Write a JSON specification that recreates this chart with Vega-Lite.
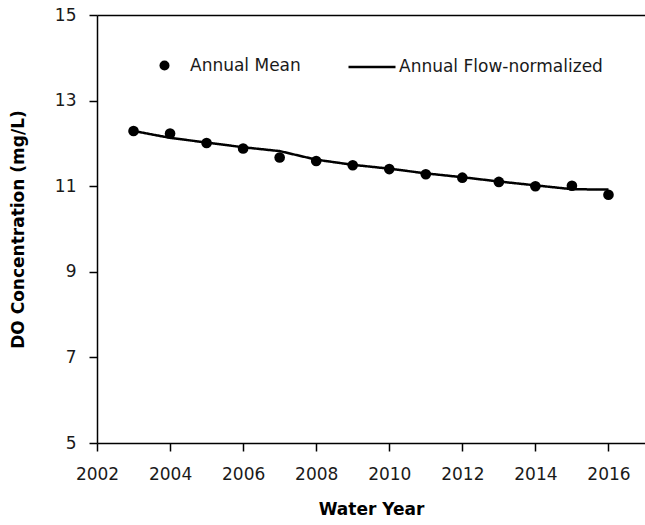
{
  "$schema": "https://vega.github.io/schema/vega-lite/v6.json",
  "autosize": {"type": "none"},
  "padding": {"left": 97, "top": 15, "right": 0, "bottom": 82},
  "width": 548,
  "height": 428,
  "background": "white",
  "config": {
    "view": {"stroke": null},
    "font": "DejaVu Sans",
    "axis": {
      "grid": false,
      "labelFlush": false,
      "labelOverlap": false,
      "domainColor": "black",
      "domainWidth": 1.5,
      "tickColor": "black",
      "tickWidth": 1.5,
      "tickSize": 8,
      "labelFont": "DejaVu Sans",
      "labelFontSize": 17,
      "labelColor": "#1a1a1a",
      "titleFont": "DejaVu Sans",
      "titleFontWeight": "bold",
      "titleFontSize": 17,
      "titleColor": "black"
    }
  },
  "data": {
    "values": [
      {"year": 2003, "mean": 12.29, "fn": 12.29},
      {"year": 2004, "mean": 12.23, "fn": 12.13},
      {"year": 2005, "mean": 12.01, "fn": 12.02},
      {"year": 2006, "mean": 11.88, "fn": 11.91},
      {"year": 2007, "mean": 11.67, "fn": 11.82},
      {"year": 2008, "mean": 11.59, "fn": 11.62},
      {"year": 2009, "mean": 11.49, "fn": 11.5},
      {"year": 2010, "mean": 11.4, "fn": 11.41},
      {"year": 2011, "mean": 11.28, "fn": 11.3},
      {"year": 2012, "mean": 11.2, "fn": 11.21},
      {"year": 2013, "mean": 11.1, "fn": 11.11},
      {"year": 2014, "mean": 11.0, "fn": 11.02},
      {"year": 2015, "mean": 11.01, "fn": 10.93},
      {"year": 2016, "mean": 10.8, "fn": 10.92}
    ]
  },
  "resolve": {"axis": {"x": "independent"}},
  "layer": [
    {
      "mark": {"type": "line", "color": "black", "strokeWidth": 2.5},
      "encoding": {
        "x": {
          "field": "year",
          "type": "quantitative",
          "scale": {"domain": [2002, 2017], "nice": false, "zero": false},
          "axis": {"values": [2002, 2004, 2006, 2008, 2010, 2012, 2014, 2016], "format": "d", "title": "Water Year", "labelPadding": 15, "titlePadding": 19}
        },
        "y": {
          "field": "fn",
          "type": "quantitative",
          "scale": {"domain": [5, 15], "nice": false, "zero": false},
          "axis": {"values": [5, 7, 9, 11, 13, 15], "title": "DO Concentration (mg/L)", "labelPadding": 13, "titlePadding": 27}
        },
        "strokeDash": {
          "datum": "Annual Flow-normalized",
          "scale": {"domain": ["Annual Flow-normalized"], "range": [[1, 0]]},
          "legend": {
            "title": null,
            "orient": "none",
            "direction": "horizontal",
            "legendX": 250,
            "legendY": 27,
            "symbolType": "stroke",
            "symbolSize": 2209,
            "symbolStrokeColor": "black",
            "symbolStrokeWidth": 2.5,
            "symbolDash": [1, 0],
            "labelFont": "DejaVu Sans",
            "labelFontSize": 17,
            "labelColor": "#1a1a1a",
            "labelOffset": 2,
            "labelLimit": 300
          }
        }
      }
    },
    {
      "mark": {"type": "point", "filled": true, "color": "black", "size": 113, "opacity": 1},
      "encoding": {
        "x": {
          "field": "year",
          "type": "quantitative",
          "axis": {"orient": "top", "labels": false, "ticks": false, "title": null, "domain": true}
        },
        "y": {"field": "mean", "type": "quantitative"},
        "shape": {
          "datum": "Annual Mean",
          "scale": {"domain": ["Annual Mean"], "range": ["circle"]},
          "legend": {
            "title": null,
            "orient": "none",
            "direction": "horizontal",
            "legendX": 59,
            "legendY": 42,
            "symbolSize": 100,
            "symbolFillColor": "black",
            "symbolStrokeColor": "black",
            "symbolStrokeWidth": 0,
            "symbolOpacity": 1,
            "labelFont": "DejaVu Sans",
            "labelFontSize": 17,
            "labelColor": "#1a1a1a",
            "labelOffset": 17,
            "labelLimit": 300
          }
        }
      }
    }
  ]
}
